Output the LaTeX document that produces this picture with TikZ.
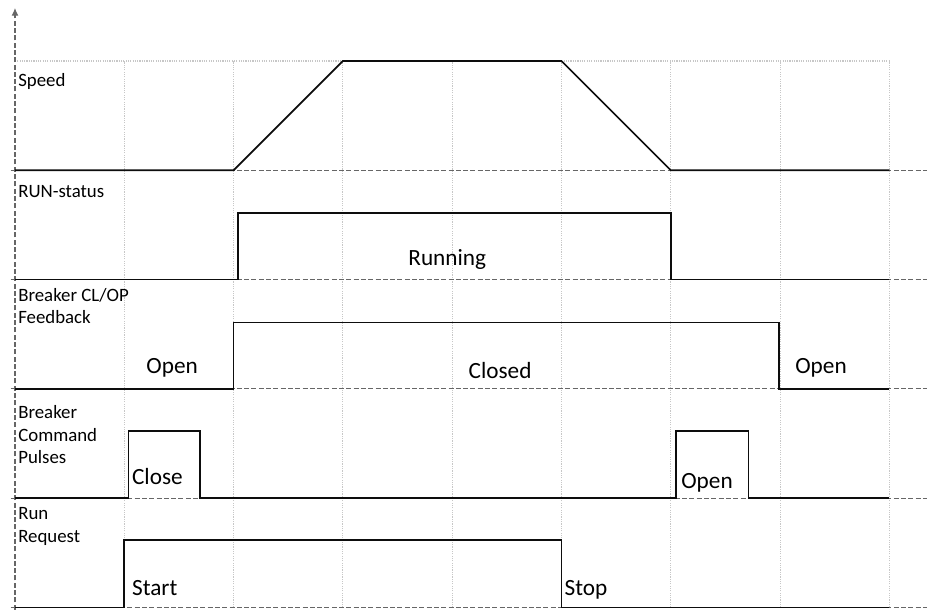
\documentclass[tikz,border=0pt]{standalone}
\usepackage{fontspec}
\setmainfont{Carlito}
\usepackage{tikz}
\usetikzlibrary{arrows.meta}
\definecolor{gridgray}{gray}{0.78}
\definecolor{axisgray}{gray}{0.40}
\definecolor{wavecol}{gray}{0.05}

\begin{document}
\begin{tikzpicture}[x=2cm, y=2cm,
		gridline/.style={gridgray, line width=0.6pt, dash pattern=on 0.6pt off 0.6pt},
		levelline/.style={axisgray, line width=0.6pt, dash pattern=on 2.6pt off 1.2pt},
		wave/.style={wavecol, line width=0.85pt},
		rowlabel/.style={anchor=base west, inner sep=0pt, align=left, font=\fontsize{9.8}{11.7}\selectfont},
		statelabel/.style={anchor=base west, inner sep=0pt, font=\fontsize{12.1}{14}\selectfont}]
		\useasboundingbox (-0.137,-0.023) rectangle (8.344,5.558);

		\foreach \x in {1,...,8}
			\draw[gridline] (\x,0) -- (\x,5);
		\draw[gridline] (0,5) -- (8,5);
		\foreach \y in {0,...,4}
			\draw[levelline] (-0.04,\y) -- (8.344,\y);
		\draw[levelline, -{Latex[length=4pt, width=3.6pt]}] (0,-0.02) -- (0,5.485);

		\draw[wave] (0,4) -- (2,4) -- (3,5) -- (5,5) -- (6,4) -- (8,4);
		\draw[wave] (0,3) -- (2.04,3) -- (2.04,3.609) -- (6,3.609) -- (6,3) -- (8,3);
		\draw[wave] (0,2) -- (2,2) -- (2,2.609) -- (6.99,2.609) -- (6.99,2) -- (8,2);
		\draw[wave] (0,1) -- (1.037,1) -- (1.037,1.617) -- (1.69,1.617) -- (1.69,1)
			-- (6.05,1) -- (6.05,1.617) -- (6.71,1.617) -- (6.71,1) -- (8,1);
		\draw[wave] (0,0) -- (1,0) -- (1,0.615) -- (5,0.615) -- (5,0) -- (8,0);

		\node[rowlabel] (speed) at (0.027,4.771) {Speed};
		\node[rowlabel] (runstatus) at (0.027,3.747) {RUN-status};
		\node[rowlabel] (feedback) at (0.027,2.595) {Breaker CL/OP\\Feedback};
		\node[rowlabel] (pulses) at (0.027,1.315) {Breaker\\Command\\Pulses};
		\node[rowlabel] (request) at (0.027,0.595) {Run\\Request};

		\node[statelabel] (running) at (3.596,3.133) {Running};
		\node[statelabel] (openleft) at (1.199,2.143) {Open};
		\node[statelabel] (closed) at (4.147,2.091) {Closed};
		\node[statelabel] (openright) at (7.136,2.143) {Open};
		\node[statelabel] (closecmd) at (1.068,1.121) {Close};
		\node[statelabel] (opencmd) at (6.093,1.093) {Open};
		\node[statelabel] (start) at (1.068,0.114) {Start};
		\node[statelabel] (stop) at (5.026,0.114) {Stop};
	\end{tikzpicture}
\end{document}
